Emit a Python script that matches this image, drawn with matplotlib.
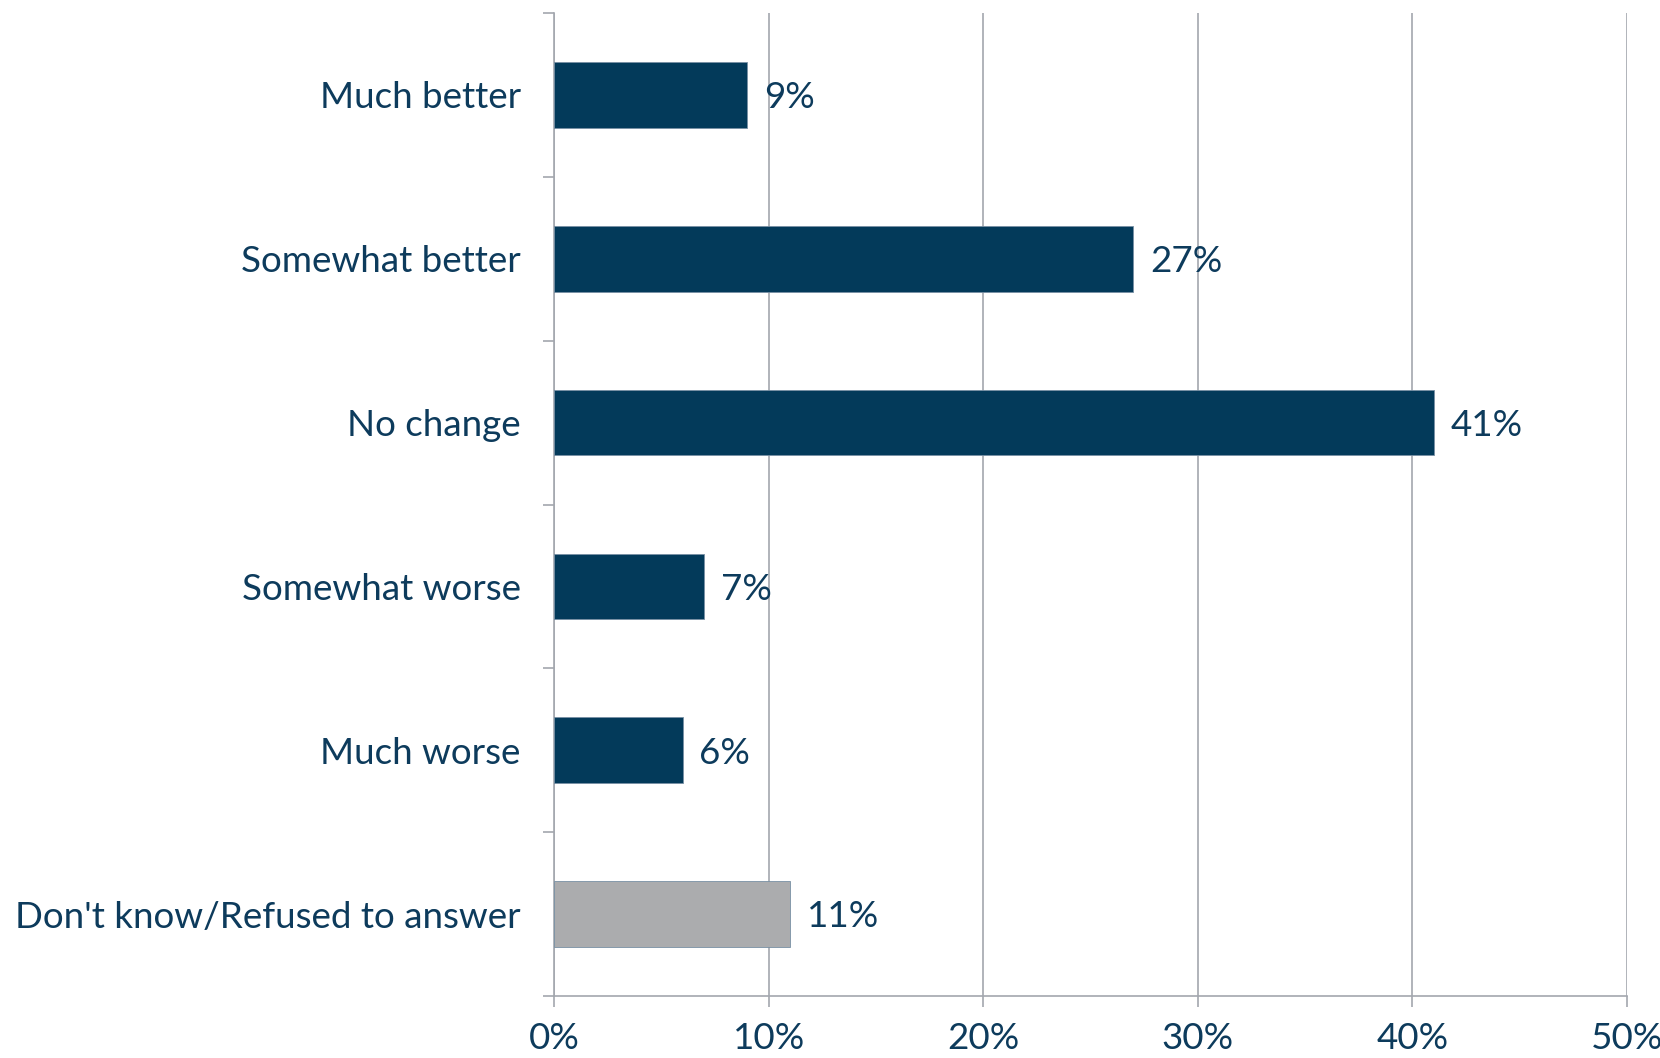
import matplotlib
matplotlib.use("Agg")
import matplotlib.pyplot as plt
import numpy as np

categories = ["Much better", "Somewhat better", "No change", "Somewhat worse",
              "Much worse", "Don't know/Refused to answer"]
values = [9, 27, 41, 7, 6, 11]
bar_colors = ["#033a5a", "#033a5a", "#033a5a", "#033a5a", "#033a5a", "#abacae"]
xticks = [0, 10, 20, 30, 40, 50]
xtick_labels = ["0%", "10%", "20%", "30%", "40%", "50%"]

text_color = "#0d3b5c"
grid_color = "#a3a7ae"
fs = 26.5

plt.rcParams['font.family'] = ['Lato', 'DejaVu Sans']

fig = plt.figure(figsize=(16.6, 10.58), dpi=100)
ax = fig.add_axes([554/1660, 1 - 996/1058, (1627-554)/1660, (996-13)/1058])

n = len(categories)
y = np.arange(n)
ax.barh(y, values, height=0.4, color=bar_colors, edgecolor="#7890a4", linewidth=0.6, zorder=3)
ax.set_ylim(n - 0.5, -0.5)
ax.set_xlim(0, 50)

ax.set_xticks(xticks)
ax.set_xticklabels(xtick_labels, fontsize=fs, color=text_color)
ax.set_yticks(np.arange(-0.5, n, 1.0))
ax.set_yticklabels([])
ax.set_yticks(y, minor=True)
ax.set_yticklabels(categories, minor=True, fontsize=fs, color=text_color)
ax.tick_params(axis='y', which='minor', length=0, pad=24)
ax.tick_params(axis='y', which='major', length=8, color=grid_color, width=1.2)
ax.tick_params(axis='x', length=8, color=grid_color, width=1.2, pad=11)

ax.grid(axis='x', color=grid_color, linewidth=1.2, zorder=0)
for s in ['top', 'right']:
    ax.spines[s].set_visible(False)
for s in ['left', 'bottom']:
    ax.spines[s].set_color(grid_color)
    ax.spines[s].set_linewidth(1.2)

for yi, v in zip(y, values):
    ax.annotate(f"{v}%", (v, yi), xytext=(12, -2), textcoords='offset points',
                ha='left', va='center', fontsize=fs, color=text_color)

fig.savefig("out.png", dpi=100)
